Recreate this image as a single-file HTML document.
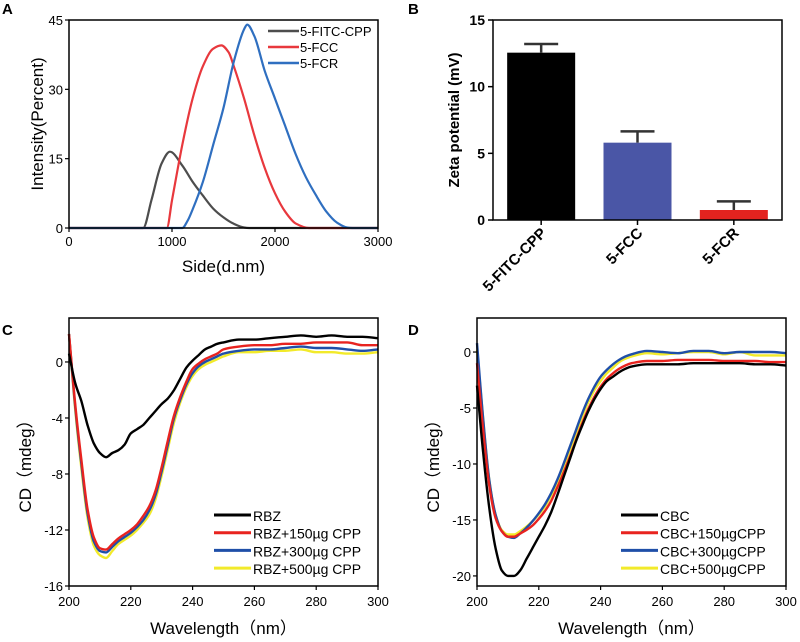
<!DOCTYPE html>
<html><head><meta charset="utf-8"><style>
html,body{margin:0;padding:0;background:#fff;width:800px;height:642px;overflow:hidden}
svg{display:block;font-family:"Liberation Sans","Noto Sans CJK SC",sans-serif}
</style></head><body>
<svg id="fig" width="800" height="642" viewBox="0 0 800 642"></svg>
<script>
// ---- Panel A data (DLS size distribution) ----
const aX_gray=[0,700,720,800,900,980,1100,1200,1300,1400,1500,1600,1700,1750,3000];
const aY_gray=[0,0,0,6,14,16.5,13.5,10,7,4.2,2.3,0.9,0.1,0,0];
const aX_red=[0,950,1000,1100,1200,1300,1400,1480,1550,1600,1700,1800,1900,2000,2100,2200,2330,3000];
const aY_red=[0,0,6,18,28,35,38.8,39.5,38,35,28,20,13,7.5,3.5,1,0,0];
const aX_blue=[0,1100,1150,1200,1300,1400,1500,1600,1700,1730,1800,1900,2000,2100,2200,2300,2400,2500,2600,2700,2750,3000];
const aY_blue=[0,0,1.5,4,10,18,26,36,43,44,41.5,34,28,22,16,11,7,3.5,1.2,0.1,0,0];
const aXTicks=[0,1000,2000,3000];
const aYTicks=[0,15,30,45];
// ---- Panel B data (zeta potential) ----
const bCats=["5-FITC-CPP","5-FCC","5-FCR"];
const bVals=[12.55,5.8,0.75];
const bErr=[0.65,0.85,0.65];
const bYTicks=[0,5,10,15];
// ---- Panel C data (CD RBZ) ----
const cX=[200,202,204,206,208,210,212,214,216,218,220,222,224,226,228,230,232,234,236,238,240,242,244,246,248,250,255,260,265,270,275,280,285,290,295,300];
const cBlack=[0.6,-1.5,-2.8,-4.5,-5.8,-6.5,-6.8,-6.5,-6.3,-5.9,-5.1,-4.8,-4.5,-4.0,-3.5,-3.0,-2.6,-2.0,-1.2,-0.4,0.1,0.5,0.9,1.1,1.3,1.4,1.6,1.6,1.7,1.8,1.9,1.8,1.9,1.8,1.8,1.7];
const cRed=[2.0,-3,-7,-10.5,-12.5,-13.3,-13.4,-13.0,-12.6,-12.3,-12.0,-11.6,-11.0,-10.3,-9.2,-7.5,-5.6,-3.8,-2.5,-1.4,-0.5,-0.1,0.2,0.4,0.6,0.9,1.1,1.2,1.2,1.3,1.3,1.4,1.4,1.4,1.2,1.2];
const cBlue=[2.0,-3.2,-7.3,-10.8,-12.8,-13.5,-13.6,-13.2,-12.8,-12.5,-12.2,-11.8,-11.3,-10.6,-9.5,-7.8,-5.9,-4.0,-2.7,-1.6,-0.8,-0.3,0.0,0.2,0.4,0.6,0.8,0.9,0.9,1.0,1.1,1.0,1.0,0.9,0.8,0.9];
const cYellow=[2.0,-3.4,-7.6,-11.1,-13.1,-13.8,-14.0,-13.5,-13.0,-12.7,-12.4,-12.0,-11.5,-10.9,-9.8,-8.1,-6.2,-4.3,-2.9,-1.8,-1.0,-0.5,-0.2,0.0,0.2,0.4,0.7,0.7,0.8,0.8,0.9,0.7,0.7,0.6,0.6,0.7];
const cXTicks=[200,220,240,260,280,300];
const cYTicks=[0,-4,-8,-12,-16];
const cNames=["RBZ","RBZ+150µg CPP","RBZ+300µg CPP","RBZ+500µg CPP"];
// ---- Panel D data (CD CBC) ----
const dX=[200,202,204,206,208,210,212,214,216,218,220,222,224,226,228,230,232,234,236,238,240,242,244,246,248,250,255,260,265,270,275,280,285,290,295,300];
const dBlack=[-3,-9,-14,-17.5,-19.5,-20,-20,-19.5,-18.5,-17.5,-16.5,-15.5,-14.3,-12.8,-11.2,-9.6,-8,-6.6,-5.3,-4.2,-3.3,-2.6,-2.2,-1.8,-1.5,-1.3,-1.1,-1.1,-1.1,-1.0,-1.0,-1.0,-1.0,-1.1,-1.1,-1.2];
const dRed=[-1,-7,-12,-14.8,-16,-16.5,-16.5,-16.2,-15.9,-15.5,-14.9,-14.2,-13.3,-12.1,-10.8,-9.4,-7.9,-6.4,-5.1,-4.0,-3.1,-2.4,-1.9,-1.5,-1.2,-1.0,-0.8,-0.8,-0.7,-0.7,-0.7,-0.8,-0.8,-0.8,-0.9,-0.9];
const dBlue=[0.8,-6,-11.5,-14.5,-16,-16.5,-16.6,-16.2,-15.7,-15.1,-14.4,-13.6,-12.6,-11.4,-10,-8.5,-7,-5.5,-4.2,-3.1,-2.2,-1.6,-1.1,-0.7,-0.4,-0.2,0.1,0.0,-0.1,0.1,0.1,-0.1,0.0,0.0,0.0,-0.1];
const dYellow=[0.2,-6,-11.5,-14.5,-15.9,-16.3,-16.3,-16.0,-15.6,-15.1,-14.5,-13.8,-12.8,-11.7,-10.3,-8.8,-7.3,-5.8,-4.5,-3.4,-2.6,-1.9,-1.4,-0.9,-0.6,-0.4,-0.1,-0.2,-0.1,0.0,0.0,-0.2,0.0,-0.3,-0.3,-0.3];
const dXTicks=[200,220,240,260,280,300];
const dYTicks=[0,-5,-10,-15,-20];
const dNames=["CBC","CBC+150µgCPP","CBC+300µgCPP","CBC+500µgCPP"];

const NS="http://www.w3.org/2000/svg";
const svg=document.getElementById('fig');
function mk(tag,attrs,parent,txt){const e=document.createElementNS(NS,tag);for(const k in attrs)e.setAttribute(k,attrs[k]);if(txt!==undefined)e.textContent=txt;(parent||svg).appendChild(e);return e;}
function lin(d0,d1,r0,r1){return v=>r0+(v-d0)/(d1-d0)*(r1-r0);}
// monotone cubic (Fritsch-Carlson) path - no overshoot
function smoothPath(xs,ys,sx,sy){
 const X=xs.map(sx),Y=ys.map(sy),n=X.length;
 const dx=[],m=[];for(let i=0;i<n-1;i++){dx.push(X[i+1]-X[i]);m.push((Y[i+1]-Y[i])/(X[i+1]-X[i]));}
 const t=new Array(n);t[0]=m[0];t[n-1]=m[n-2];
 for(let i=1;i<n-1;i++){if(m[i-1]*m[i]<=0)t[i]=0;else{const w1=2*dx[i]+dx[i-1],w2=dx[i]+2*dx[i-1];t[i]=(w1+w2)/(w1/m[i-1]+w2/m[i]);}}
 let d='M'+X[0].toFixed(1)+','+Y[0].toFixed(1);
 for(let i=0;i<n-1;i++){const h=dx[i]/3;
  d+=` C${(X[i]+h).toFixed(1)},${(Y[i]+t[i]*h).toFixed(1)} ${(X[i+1]-h).toFixed(1)},${(Y[i+1]-t[i+1]*h).toFixed(1)} ${X[i+1].toFixed(1)},${Y[i+1].toFixed(1)}`;}
 return d;}
function frame(g,L,R,T,B){mk('rect',{x:L,y:T,width:R-L,height:B-T,fill:'none',stroke:'#000','stroke-width':1.5},g);}
function panelLabel(t,x,y){const e=mk('text',{x:x,y:y,'font-size':15,'font-weight':'bold'},svg,t);}

// ===== Panel A =====
(function(){
 const g=mk('g',{});
 const L=69,R=378,T=20,B=228;const sx=lin(0,3000,L,R),sy=lin(0,45,B,T);
 [[aX_gray,aY_gray,'#4d4d4d','series-5-fitc-cpp'],[aX_red,aY_red,'#e8383d','series-5-fcc'],[aX_blue,aY_blue,'#2f6fc0','series-5-fcr']].forEach(s=>{
  const p=mk('path',{d:smoothPath(s[0],s[1],sx,sy),fill:'none',stroke:s[2],'stroke-width':2.2},g);});
 frame(g,L,R,T,B);
 aYTicks.forEach(v=>{mk('line',{x1:L-4,x2:L,y1:sy(v),y2:sy(v),stroke:'#000','stroke-width':1.2},g);const t=mk('text',{x:L-6,y:sy(v)+5,'text-anchor':'end','font-size':13},g,v);});
 aXTicks.forEach(v=>{mk('line',{x1:sx(v),x2:sx(v),y1:B,y2:B+4,stroke:'#000','stroke-width':1.2},g);const t=mk('text',{x:sx(v),y:B+18,'text-anchor':'middle','font-size':13},g,v);});
 const xt=mk('text',{x:(L+R)/2,y:272,'text-anchor':'middle','font-size':17},g,'Side(d.nm)');
 const yt=mk('text',{x:0,y:0,transform:'translate(43,124) rotate(-90)','text-anchor':'middle','font-size':17},g,'Intensity(Percent)');
 [['5-FITC-CPP','#4d4d4d'],['5-FCC','#e8383d'],['5-FCR','#2f6fc0']].forEach((e,i)=>{const y=31+i*16;const lg=mk('g',{},g);
  mk('line',{x1:268,x2:299,y1:y,y2:y,stroke:e[1],'stroke-width':2.5},lg);mk('text',{x:300,y:y+5,'font-size':13},lg,e[0]);});
})();
panelLabel('A',2,14);

// ===== Panel B =====
(function(){
 const g=mk('g',{});
 const L=493,R=782,T=20,B=220;const sy=lin(0,15,B,T);const bw=(R-L)/3;const cols=['#000','#4a56a6','#e3231f'];
 bCats.forEach((c,i)=>{const cx=L+bw*(i+0.5);
  const r=mk('rect',{x:cx-34,y:sy(bVals[i]),width:68,height:B-sy(bVals[i]),fill:cols[i]},g);
  const e=mk('path',{d:`M${cx},${sy(bVals[i])} V${sy(bVals[i]+bErr[i])} M${cx-17},${sy(bVals[i]+bErr[i])} H${cx+17}`,stroke:'#333','stroke-width':2.5,fill:'none'},g);
  mk('line',{x1:cx,x2:cx,y1:B,y2:B+5,stroke:'#000','stroke-width':1.5},g);
  const t=mk('text',{x:0,y:0,transform:`translate(${cx+6},${B+14}) rotate(-45)`,'text-anchor':'end','font-size':15,'font-weight':'bold'},g,c);});
 frame(g,L,R,T,B);
 bYTicks.forEach(v=>{mk('line',{x1:L-5,x2:L,y1:sy(v),y2:sy(v),stroke:'#000','stroke-width':1.5},g);const t=mk('text',{x:L-8,y:sy(v)+5,'text-anchor':'end','font-size':14,'font-weight':'bold'},g,v);});
 const yt=mk('text',{x:0,y:0,transform:'translate(459,120) rotate(-90)','text-anchor':'middle','font-size':15,'font-weight':'bold'},g,'Zeta potential (mV)');
})();
panelLabel('B',408,14);

// ===== CD panels =====
function cdPanel(id,L,R,T,B,y0,y1,xs,series,names,yTicks,xTicks,legX){
 const g=mk('g',{});
 const sx=lin(200,300,L,R),sy=lin(y0,y1,B,T);const cols=['#000','#e8231f','#1f4fa8','#f2ea2a'];
 const order=[3,2,1,0];
 order.forEach(i=>{const p=mk('path',{d:smoothPath(xs,series[i],sx,sy),fill:'none',stroke:cols[i],'stroke-width':2.4},g);});
 frame(g,L,R,T,B);
 yTicks.forEach(v=>{mk('line',{x1:L-4,x2:L,y1:sy(v),y2:sy(v),stroke:'#000','stroke-width':1.2},g);const t=mk('text',{x:L-6,y:sy(v)+5,'text-anchor':'end','font-size':13},g,v);});
 xTicks.forEach(v=>{mk('line',{x1:sx(v),x2:sx(v),y1:B,y2:B+4,stroke:'#000','stroke-width':1.2},g);const t=mk('text',{x:sx(v),y:B+20,'text-anchor':'middle','font-size':13},g,v);});
 const xt=mk('text',{x:(L+R)/2,y:634,'text-anchor':'middle','font-size':17},g,'Wavelength（nm）');
 const yt=mk('text',{x:0,y:0,transform:`translate(${L-38},${(T+B)/2+10}) rotate(-90)`,'text-anchor':'middle','font-size':17},g,'CD（mdeg）');
 names.forEach((n,i)=>{const y=515+i*17.7;const lg=mk('g',{},g);
  mk('line',{x1:legX,x2:legX+37,y1:y,y2:y,stroke:cols[i],'stroke-width':3},lg);mk('text',{x:legX+39,y:y+6,'font-size':14},lg,n);});
}
cdPanel('c',69,378,318,586,-16,3.14,cX,[cBlack,cRed,cBlue,cYellow],cNames,cYTicks,cXTicks,214);
cdPanel('d',477,786,318,586,-20.9,3.04,dX,[dBlack,dRed,dBlue,dYellow],dNames,dYTicks,dXTicks,621);
panelLabel('C',2,335);
panelLabel('D',408,335);
</script>
</body></html>
